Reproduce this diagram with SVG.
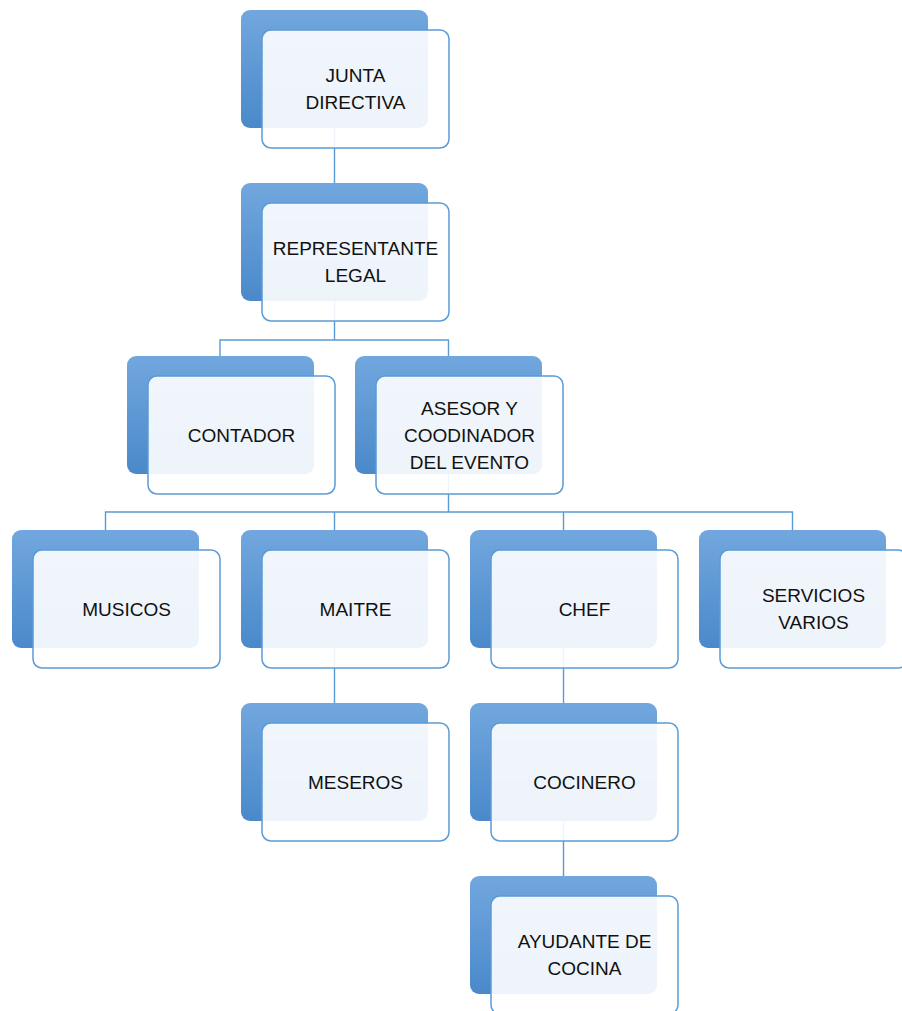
<svg xmlns="http://www.w3.org/2000/svg" width="902" height="1011" viewBox="0 0 902 1011">
<defs>
<linearGradient id="bg" x1="0" y1="0" x2="0" y2="1">
<stop offset="0" stop-color="#72A7DE"/>
<stop offset="1" stop-color="#4A89CA"/>
</linearGradient>
<style>
.back{fill:url(#bg);}
.front{fill:#FFFFFF;fill-opacity:0.9;stroke:#5B9BD5;stroke-width:1.5;}
.conn{fill:none;stroke:#5B9BD5;stroke-width:1.4;}
.t{font-family:"Liberation Sans",Arial,sans-serif;font-size:19px;fill:#111;text-anchor:middle;}
</style>
</defs>
<rect width="902" height="1011" fill="#FFFFFF"/>
<g id="connectors" class="conn">
<path d="M334.5,128 V183"/>
<path d="M334.5,301 V340 M220,356 V340 H448.5 V356"/>
<path d="M448.5,474 V512 M105.5,530 V512 H792.5 V530 M334.5,512 V530 M563.5,512 V530"/>
<path d="M334.5,648 V703"/>
<path d="M563.5,648 V703"/>
<path d="M563.5,821 V876"/>
</g>
<g id="junta">
<rect class="back" x="241" y="10" width="187" height="118" rx="9"/>
<rect class="front" x="262" y="30" width="187" height="118" rx="9"/>
<text class="t" x="355.5" y="82.3">JUNTA</text>
<text class="t" x="355.5" y="109.3">DIRECTIVA</text>
</g>
<g id="representante">
<rect class="back" x="241" y="183" width="187" height="118" rx="9"/>
<rect class="front" x="262" y="203" width="187" height="118" rx="9"/>
<text class="t" x="355.5" y="255.3">REPRESENTANTE</text>
<text class="t" x="355.5" y="282.3">LEGAL</text>
</g>
<g id="contador">
<rect class="back" x="127" y="356" width="187" height="118" rx="9"/>
<rect class="front" x="148" y="376" width="187" height="118" rx="9"/>
<text class="t" x="241.5" y="441.8">CONTADOR</text>
</g>
<g id="asesor">
<rect class="back" x="355" y="356" width="187" height="118" rx="9"/>
<rect class="front" x="376" y="376" width="187" height="118" rx="9"/>
<text class="t" x="469.5" y="414.8">ASESOR Y</text>
<text class="t" x="469.5" y="441.8">COODINADOR</text>
<text class="t" x="469.5" y="468.8">DEL EVENTO</text>
</g>
<g id="musicos">
<rect class="back" x="12" y="530" width="187" height="118" rx="9"/>
<rect class="front" x="33" y="550" width="187" height="118" rx="9"/>
<text class="t" x="126.5" y="615.8">MUSICOS</text>
</g>
<g id="maitre">
<rect class="back" x="241" y="530" width="187" height="118" rx="9"/>
<rect class="front" x="262" y="550" width="187" height="118" rx="9"/>
<text class="t" x="355.5" y="615.8">MAITRE</text>
</g>
<g id="chef">
<rect class="back" x="470" y="530" width="187" height="118" rx="9"/>
<rect class="front" x="491" y="550" width="187" height="118" rx="9"/>
<text class="t" x="584.5" y="615.8">CHEF</text>
</g>
<g id="servicios">
<rect class="back" x="699" y="530" width="187" height="118" rx="9"/>
<rect class="front" x="720" y="550" width="187" height="118" rx="9"/>
<text class="t" x="813.5" y="602.3">SERVICIOS</text>
<text class="t" x="813.5" y="629.3">VARIOS</text>
</g>
<g id="meseros">
<rect class="back" x="241" y="703" width="187" height="118" rx="9"/>
<rect class="front" x="262" y="723" width="187" height="118" rx="9"/>
<text class="t" x="355.5" y="788.8">MESEROS</text>
</g>
<g id="cocinero">
<rect class="back" x="470" y="703" width="187" height="118" rx="9"/>
<rect class="front" x="491" y="723" width="187" height="118" rx="9"/>
<text class="t" x="584.5" y="788.8">COCINERO</text>
</g>
<g id="ayudante">
<rect class="back" x="470" y="876" width="187" height="118" rx="9"/>
<rect class="front" x="491" y="896" width="187" height="118" rx="9"/>
<text class="t" x="584.5" y="948.3">AYUDANTE DE</text>
<text class="t" x="584.5" y="975.3">COCINA</text>
</g>
</svg>
